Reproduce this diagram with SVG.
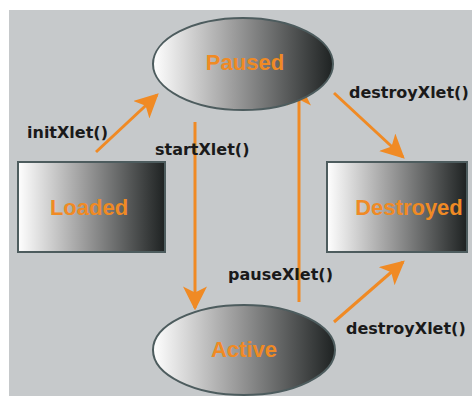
<svg xmlns="http://www.w3.org/2000/svg" width="472" height="396" viewBox="0 0 472 396">
<defs>
<linearGradient id="g" x1="0" y1="0" x2="1" y2="0">
<stop offset="0" stop-color="#ffffff"/>
<stop offset="0.45" stop-color="#9c9c9c"/>
<stop offset="1" stop-color="#1e2222"/>
</linearGradient>
<marker id="ah" viewBox="0 0 10 10" refX="9" refY="5" markerWidth="8" markerHeight="8" orient="auto" markerUnits="strokeWidth">
<path d="M0,0 L10,5 L0,10 L2.5,5 Z" fill="#f08a24"/>
</marker>
<style>
.node{fill:url(#g);stroke:#4d5c5e;stroke-width:2}
.nt{font-family:"Liberation Sans",Arial,sans-serif;font-weight:bold;font-size:22px;fill:#f08a24;text-anchor:middle}
.lb{font-family:"DejaVu Sans",sans-serif;font-weight:bold;font-size:16px;fill:#1a1a1a}
.c{stroke:#f08a24;stroke-width:3;fill:none;marker-end:url(#ah)}
</style>
</defs>
<rect x="0" y="0" width="472" height="396" fill="#ffffff"/>
<rect x="9" y="10" width="463" height="386" fill="#c6c9cb"/>
<g id="connectors">
<line class="c" x1="96" y1="152" x2="157" y2="95"/>
<line class="c" x1="195" y1="122" x2="195" y2="308"/>
<line class="c" x1="299" y1="302" x2="299" y2="84"/>
<line class="c" x1="334" y1="93" x2="403" y2="157"/>
<line class="c" x1="334" y1="322" x2="403" y2="262"/>
</g>
<g id="labels">
<text class="lb" x="27" y="138">initXlet()</text>
<text class="lb" x="155" y="155">startXlet()</text>
<text class="lb" x="349" y="98">destroyXlet()</text>
<text class="lb" x="228" y="280">pauseXlet()</text>
<text class="lb" x="346" y="334">destroyXlet()</text>
</g>
<g id="paused">
<ellipse class="node" cx="243" cy="64" rx="90" ry="46"/>
<text class="nt" x="245" y="70">Paused</text>
</g>
<g id="loaded">
<rect class="node" x="18" y="162" width="147" height="90"/>
<text class="nt" x="89" y="215">Loaded</text>
</g>
<g id="destroyed">
<rect class="node" x="327" y="162" width="140" height="90"/>
<text class="nt" x="409" y="215">Destroyed</text>
</g>
<g id="active">
<ellipse class="node" cx="244" cy="350" rx="91" ry="45"/>
<text class="nt" x="244" y="357">Active</text>
</g>
</svg>
